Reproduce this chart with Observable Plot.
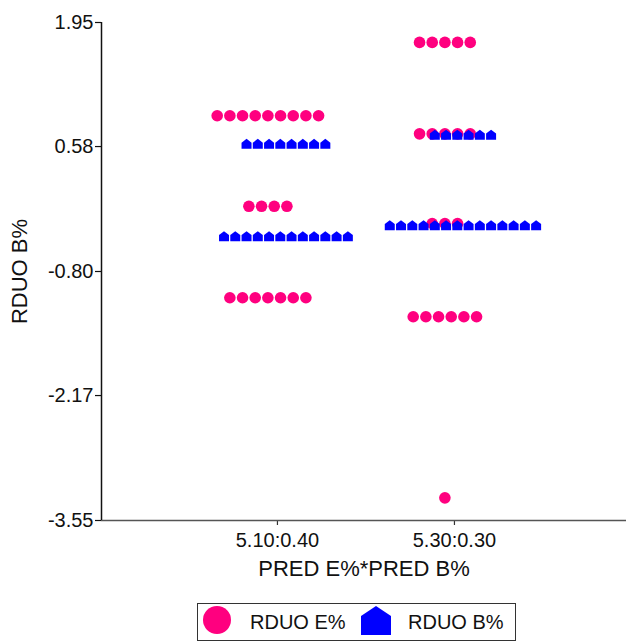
<!DOCTYPE html>
<html>
<head>
<meta charset="utf-8">
<script src="https://cdn.jsdelivr.net/npm/d3@7"></script>
<script src="https://cdn.jsdelivr.net/npm/@observablehq/plot@0.6"></script>
<style>
  html, body { margin: 0; padding: 0; background: #fff; }
  body { font-family: "Liberation Sans", Arial, sans-serif; }
  #legend {
    position: relative; margin-left: 197px; margin-top: 13px;
    width: 317px; height: 36px; border: 1px solid #333; color: #111;
    font-size: 20px; line-height: 36px;
  }
  #legend span { position: absolute; top: 0; white-space: nowrap; }
  #legend svg { position: absolute; }
</style>
</head>
<body>
<div id="chart"></div>
<div id="legend">
  <svg style="left:5px;top:2px" width="30" height="30"><circle cx="14" cy="14" r="14" fill="#ff007f"/></svg>
  <span style="left:52px">RDUO E%</span>
  <svg style="left:163px;top:1px" width="31" height="31"><path d="M15,1 L30,11 L30,30 L0,30 L0,11 Z" fill="#0000ff"/></svg>
  <span style="left:210px">RDUO B%</span>
</div>
<script>
// ---- data ----
const categories = ["5.10:0.40", "5.30:0.30"];
// RDUO E% : levels and number of stacked points at each level, per category
const eLevels = [[0.92, -0.08, -1.09], [1.73, 0.72, -0.27, -1.30, -3.30]];
const eCounts = [[9, 4, 7], [5, 5, 3, 6, 1]];
// RDUO B%
const bLevels = [[0.61, -0.41], [0.71, -0.29]];
const bCounts = [[8, 12], [6, 14]];
const yTicks = [1.95, 0.58, -0.80, -2.17, -3.55];

// ---- layout parameters (in category units) ----
const xDomain = [-0.994, 1.972];
const yDomain = [-3.55, 1.95];
const eOffset = -0.054, bOffset = 0.048;
const eStep = 0.0716, bStep = 0.0636;

function expand(levels, counts, offset, step, series) {
  const out = [];
  levels.forEach((lv, c) => lv.forEach((v, j) => {
    const n = counts[c][j];
    for (let i = 0; i < n; i++) {
      out.push({series, cat: c, value: v, pos: c + offset + (i - (n - 1) / 2) * step});
    }
  }));
  return out;
}
const ePts = expand(eLevels, eCounts, eOffset, eStep, "RDUO E%");
const bPts = expand(bLevels, bCounts, bOffset, bStep, "RDUO B%");

const house = {
  draw(ctx, size) {
    const w = Math.sqrt(size / Math.PI) * 2;
    const h = w;
    ctx.moveTo(0, -h / 2);
    ctx.lineTo(w / 2, -h / 2 + h * 0.38);
    ctx.lineTo(w / 2, h / 2);
    ctx.lineTo(-w / 2, h / 2);
    ctx.lineTo(-w / 2, -h / 2 + h * 0.38);
    ctx.closePath();
  }
};

const plot = Plot.plot({
  width: 626,
  height: 590,
  marginLeft: 101,
  marginRight: 0,
  marginTop: 22,
  marginBottom: 70,
  style: {fontFamily: "'Liberation Sans', Arial, sans-serif", background: "#fff", color: "#111"},
  x: {type: "linear", domain: xDomain},
  y: {domain: yDomain},
  marks: [
    Plot.axisY({ticks: yTicks, tickFormat: d => d.toFixed(2), tickSize: 6, tickPadding: 2,
      fontSize: 20, label: null, stroke: "#111", strokeWidth: 1.2}),
    Plot.axisX({ticks: [0, 1], tickFormat: i => categories[i], tickSize: 5, tickPadding: 7,
      fontSize: 20, label: null, stroke: "#333", strokeWidth: 1.2}),
    Plot.ruleY([yDomain[0]], {stroke: "#555", strokeWidth: 1.5}),
    Plot.ruleX([xDomain[0]], {stroke: "#111", strokeWidth: 1.5}),
    Plot.text(["RDUO B%"], {frameAnchor: "left", rotate: -90, dx: -82, fontSize: 22,
      fill: "#111", textAnchor: "middle", lineAnchor: "middle"}),
    Plot.text(["PRED E%*PRED B%"], {frameAnchor: "bottom", dy: 48, fontSize: 22,
      fill: "#111", textAnchor: "middle", lineAnchor: "middle"}),
    Plot.dot(ePts, {x: "pos", y: "value", r: 5.8, fill: "#ff007f", symbol: "circle"}),
    Plot.dot(bPts, {x: "pos", y: "value", r: 5.0, fill: "#0000ff", symbol: house})
  ]
});
document.getElementById("chart").appendChild(plot);
</script>
</body>
</html>
